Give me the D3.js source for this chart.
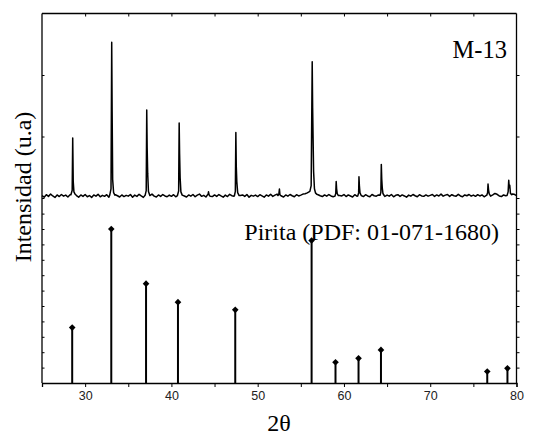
<html>
<head>
    <style>
        body { margin: 0; background: white; }
        svg { display: block; }
    </style>
    <script src="https://cdn.jsdelivr.net/npm/d3@7"></script>
</head>
<body>
<svg id="chart"></svg>
<script>
    // reference pattern for pyrite (PDF 01-071-1680): 2theta and relative intensity
    let pdfAngle = [28.5, 33.03, 37.06, 40.76, 47.4, 56.25, 59.02, 61.69, 64.29, 76.61, 78.95]
    let pdfIntensity = [36, 100, 64.5, 52.5, 47.5, 92.5, 13.5, 16, 21.5, 7.5, 9.5]

    // measured pattern M-13: background read every 0.25 deg from 25 to 80
    let bgStart = 25
    let bgStep = 0.25
    let bgCounts = [
        312,304,316,308,319,310,303,315,307,317,309,314,305,316,318,320,312,304,315,308,
        317,306,312,303,315,309,318,306,313,308,316,304,319,322,316,311,305,315,307,313,
        309,317,304,314,308,318,310,303,316,307,313,319,309,305,315,308,317,310,306,314,
        308,316,306,313,319,320,310,305,315,309,317,306,314,319,308,313,305,316,309,307,
        315,308,317,310,304,314,307,318,311,309,316,305,312,315,308,317,304,313,309,314,
        307,316,310,304,315,309,318,308,314,319,316,310,305,315,309,317,311,306,316,310,
        314,319,321,325,331,326,320,322,316,311,307,315,309,317,310,306,313,319,312,310,
        317,307,315,310,305,316,309,319,311,307,316,310,306,317,311,309,315,319,316,308,
        314,309,317,306,313,316,308,315,310,304,314,309,317,311,306,316,310,308,315,309,
        313,317,308,315,310,319,309,314,317,308,316,311,309,318,310,306,315,311,317,309,
        314,308,316,310,315,306,313,317,309,315,322,318,310,307,315,311,306,316,320,318,
        312
    ]

    // peaks of M-13, each as [2theta, counts] points
    let peakPoints = [
        [[28.35,316],[28.5,338],[28.56,593],[28.62,380],[28.7,330],[28.85,318]],
        [[32.85,314],[33.0,345],[33.08,1060],[33.13,720],[33.19,390],[33.3,326],[33.45,314]],
        [[36.95,313],[37.08,336],[37.14,729],[37.19,544],[37.25,420],[37.34,332],[37.5,312]],
        [[40.7,312],[40.84,335],[40.9,666],[40.95,515],[41.01,400],[41.1,330],[41.25,314]],
        [[47.3,311],[47.41,332],[47.47,619],[47.52,453],[47.58,380],[47.68,326],[47.85,312]],
        [[52.35,312],[52.45,318],[52.52,344],[52.58,316],[52.7,311]],
        [[44.15,313],[44.25,318],[44.3,330],[44.36,316],[44.45,310]],
        [[56.05,332],[56.2,360],[56.32,965],[56.37,740],[56.42,599],[56.48,430],[56.58,345],[56.7,325],[56.85,318]],
        [[58.95,309],[59.05,322],[59.1,380],[59.15,345],[59.22,322],[59.35,312]],
        [[61.6,310],[61.7,325],[61.74,404],[61.79,360],[61.86,325],[62.0,312]],
        [[64.18,313],[64.28,328],[64.33,464],[64.38,392],[64.44,350],[64.52,322],[64.68,311]],
        [[76.55,313],[76.65,326],[76.7,368],[76.76,340],[76.84,320],[76.95,313]],
        [[78.9,312],[79.03,330],[79.1,386],[79.16,350],[79.22,362],[79.3,322],[79.45,316]]
    ]

    let xMajor = [30, 40, 50, 60, 70, 80]
    let xMinor = [25, 35, 45, 55, 65, 75]
    let topTicks = [300, 600, 900]
    let botTicks = [10, 20, 30, 40, 50, 60, 70, 80, 90, 100, 110]

    function buildTrace() {
        let bg = bgCounts.map((c, i) => [bgStart + i * bgStep, c])
        // drop background points covered by a peak
        let ranges = peakPoints.map(p => [p[0][0], p[p.length - 1][0]])
        bg = bg.filter(d => !ranges.some(r => d[0] >= r[0] && d[0] <= r[1]))
        let all = bg.concat(...peakPoints)
        return all.sort((a, b) => a[0] - b[0])
    }

    function draw() {
        let width = 535
        let height = 442
        let left = 42, right = 516.5, top = 13.5, bottom = 383

        let svg = d3.select("#chart")
            .attr("width", width)
            .attr("height", height)

        let x = d3.scaleLinear().domain([25, 80]).range([left, right])
        let yTop = d3.scaleLinear().domain([0, 1200]).range([259.5, top])
        let yBot = d3.scaleLinear().domain([0, 110]).range([bottom, 213.6])

        // measured trace
        let line = d3.line()
            .x(d => x(d[0]))
            .y(d => yTop(d[1]))
        svg.append("path")
            .datum(buildTrace())
            .attr("d", line)
            .attr("fill", "none")
            .attr("stroke", "black")
            .attr("stroke-width", 1.5)
            .attr("stroke-linejoin", "round")

        // reference sticks
        let pdf = pdfAngle.map((a, i) => ({angle: a, value: pdfIntensity[i]}))
        svg.selectAll("line.stick").data(pdf)
            .enter().append("line")
            .attr("class", "stick")
            .attr("x1", d => x(d.angle))
            .attr("x2", d => x(d.angle))
            .attr("y1", yBot(0))
            .attr("y2", d => yBot(d.value))
            .attr("stroke", "black")
            .attr("stroke-width", 2)

        let marker = d3.symbol().type(d3.symbolSquare).size(22)
        svg.selectAll("path.mark").data(pdf)
            .enter().append("path")
            .attr("class", "mark")
            .attr("d", marker)
            .attr("transform", d => `translate(${x(d.angle)},${yBot(d.value)}) rotate(45)`)
            .attr("fill", "black")

        // frame
        let frame = svg.append("g").attr("stroke", "black").attr("stroke-width", 1.3)
        frame.append("line").attr("x1", left).attr("x2", left).attr("y1", top).attr("y2", bottom)
        frame.append("line").attr("x1", right).attr("x2", right).attr("y1", top).attr("y2", bottom)
        frame.append("line").attr("x1", left).attr("x2", right).attr("y1", top).attr("y2", top)

        // bottom axis
        let xAxis = d3.axisBottom(x)
            .tickValues(xMajor.concat(xMinor).sort((a, b) => a - b))
            .tickSize(4)
            .tickPadding(4)
            .tickFormat(d => xMajor.includes(d) ? d : "")
        let gx = svg.append("g")
            .attr("transform", `translate(0,${bottom})`)
            .call(xAxis)
        gx.select(".domain").attr("stroke-width", 1.3)
        gx.selectAll(".tick line").attr("stroke-width", 1)
        gx.selectAll("text")
            .attr("font-family", "'Liberation Sans', Arial, sans-serif")
            .attr("font-size", 12.5)
            .attr("fill", "#222")

        // top ticks (inside)
        let xTop = d3.axisTop(x)
            .tickValues(xMajor.concat(xMinor).filter(d => d > 25 && d < 80))
            .tickSize(-3)
            .tickFormat("")
        let gt = svg.append("g").attr("transform", `translate(0,${top})`).call(xTop)
        gt.select(".domain").remove()

        // y ticks: left inside, right outside
        let leftTop = d3.axisLeft(yTop).tickValues(topTicks).tickSize(-2.5).tickFormat("")
        let leftBot = d3.axisLeft(yBot).tickValues(botTicks).tickSize(-2.5).tickFormat("")
        let rightTop = d3.axisRight(yTop).tickValues(topTicks).tickSize(3).tickFormat("")
        let rightBot = d3.axisRight(yBot).tickValues(botTicks).tickSize(3).tickFormat("")
        for (let ax of [leftTop, leftBot]) {
            svg.append("g").attr("transform", `translate(${left},0)`).call(ax).select(".domain").remove()
        }
        for (let ax of [rightTop, rightBot]) {
            svg.append("g").attr("transform", `translate(${right},0)`).call(ax).select(".domain").remove()
        }

        // labels
        let serif = "'Liberation Serif', 'Times New Roman', serif"
        svg.append("text")
            .attr("x", 507).attr("y", 58)
            .attr("text-anchor", "end")
            .attr("font-family", serif).attr("font-size", 24.5)
            .text("M-13")
        svg.append("text")
            .attr("x", 499).attr("y", 240)
            .attr("text-anchor", "end")
            .attr("font-family", serif).attr("font-size", 24)
            .text("Pirita (PDF: 01-071-1680)")
        svg.append("text")
            .attr("transform", "translate(31,187) rotate(-90)")
            .attr("text-anchor", "middle")
            .attr("font-family", serif).attr("font-size", 24)
            .text("Intensidad (u.a)")
        svg.append("text")
            .attr("x", 279).attr("y", 431)
            .attr("text-anchor", "middle")
            .attr("font-family", serif).attr("font-size", 24)
            .text("2θ")
    }

    draw()
</script>
</body>
</html>
